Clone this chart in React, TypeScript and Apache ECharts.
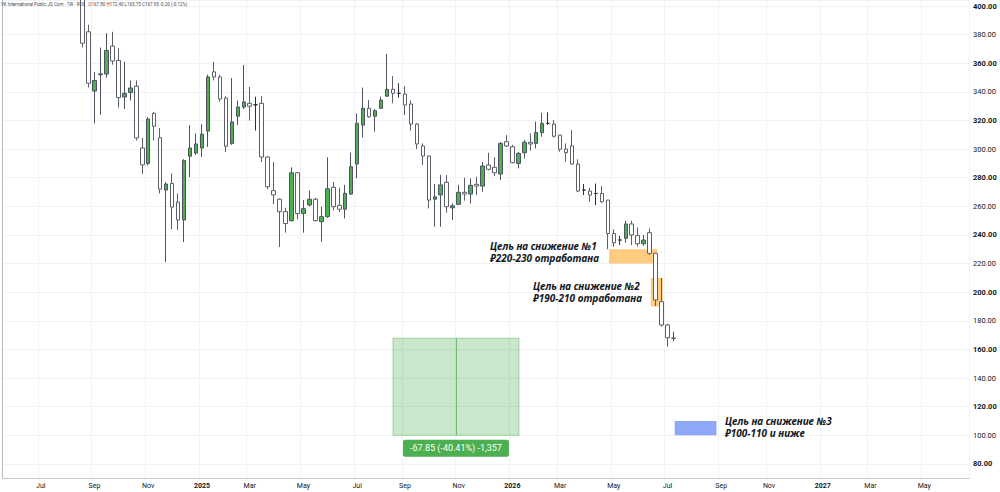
import React, { useEffect, useRef } from "react";
import * as echarts from "echarts";

// ---- categories: weekly bars ----
const FIRST_WEEK = "2024-05-20";
const WEEK_COUNT = 162;
const FIRST_CANDLE_INDEX = 13;
const MONTHS = ["Jan", "Feb", "Mar", "Apr", "May", "Jun", "Jul", "Aug", "Sep", "Oct", "Nov", "Dec"];

// ---- weekly OHLC ----
const OPEN = [
  412, 382, 340.6, 352, 352.5, 372, 362, 336.4, 339.5, 344,
  300.8, 290, 325, 308, 271.4, 276, 263, 250.5, 295, 297.3,
  300.8, 312.6, 354, 350.4, 335.7, 304, 323, 329.4, 332, 331,
  332, 294.5, 271, 265, 256.3, 250, 283.5, 255, 261, 265,
  249.3, 252.8, 273.3, 260.7, 258, 268.6, 289.6, 316.8, 328.5, 323,
  328.5, 337, 341.8, 339, 338.5, 331.5, 317.5, 302.2, 295.2, 265,
  268, 276.8, 259, 261.4, 269.8, 268.6, 275.4, 274.2, 288.9, 287.3,
  282.6, 305.2, 301.7, 290, 297.5, 304.8, 304, 311.5, 318, 317.5,
  309.8, 300, 302.2, 289.6, 271.4, 270.7, 269, 269, 264.4, 241,
  236.5, 237.7, 247.7, 239.6, 233.9, 241.6, 227.2, 193.4, 177.1, 167.8,
];
const CLOSE = [
  374, 346, 348, 352.6, 369, 361.6, 336, 339, 342.7, 307.8,
  289, 321, 316, 272, 275.6, 259.5, 250.5, 292, 300.8, 303.6,
  310.5, 350.4, 350.4, 335, 302, 319, 329.4, 333, 330, 331,
  294.5, 273.7, 268, 256.3, 248, 283.5, 255, 258.4, 265, 250,
  252.8, 272.3, 259.8, 258, 269, 287.7, 318, 328.5, 322.6, 326.8,
  334.3, 341.8, 339, 339, 330.8, 317.5, 303.6, 295.2, 264.4, 266.7,
  275, 259.8, 260.4, 269.8, 268.6, 274.7, 274.2, 288.2, 285.9, 283.5,
  304, 302.2, 290.5, 297, 304.8, 303.6, 311.7, 318, 318, 309,
  299.9, 297.5, 289.6, 270.7, 271.4, 267.9, 269, 263.2, 241, 234.6,
  236.5, 247.7, 240, 233.9, 236.5, 227.2, 194.6, 177.1, 168.15, 167.95,
];
const LOW = [
  371, 343, 318, 324, 350, 359, 329, 328, 334, 306,
  282.6, 288.5, 306, 269, 221, 244, 243.5, 235, 280.5, 296,
  294.5, 301.5, 348, 333, 298, 303, 316.8, 328, 320, 313,
  291, 272, 261.6, 231.6, 241.6, 249.5, 251, 241.6, 260, 249.5,
  235.3, 252, 257, 256, 251.6, 268, 279.6, 308.2, 322, 312.2,
  328, 336.6, 332, 336, 323.8, 312.9, 300, 288.9, 258.6, 245.8,
  245.8, 255.6, 250.5, 261, 264, 262, 267.9, 270.2, 285, 281.2,
  278.4, 301.5, 290, 286.6, 293.5, 298.9, 300.5, 308.7, 317, 308,
  298.2, 291.2, 289, 270, 267.9, 263.2, 260.9, 262.5, 230, 231.8,
  233, 234.6, 233, 232, 232.5, 226, 190.4, 175.9, 161.9, 165.75,
];
const HIGH = [
  425, 387, 354, 371, 381, 382, 370.6, 361, 348, 348,
  307.8, 322.4, 326, 314.7, 277, 283, 269, 293, 316.8, 311,
  317.5, 352, 361, 352, 337, 349.7, 334, 358.8, 343.4, 336.6,
  337, 295, 291, 265.5, 259, 287.3, 284, 264.4, 271, 266,
  259.8, 294.3, 277, 273, 275, 297.5, 325, 343, 334.3, 328,
  336.6, 366.5, 351, 346, 344, 334, 318, 304, 295.5, 275.6,
  282, 282, 262, 275, 280, 279.6, 280.7, 291, 297.5, 294.3,
  305, 309.8, 303, 298, 306.4, 311, 319.2, 325.4, 325.7, 320.3,
  310, 304, 313.3, 292.9, 275.6, 273, 276, 274.2, 264.5, 244,
  239.3, 250, 250, 245.3, 240, 244.6, 227.5, 210, 178, 172.4,
];

// ---- price axis ----
const Y_MIN = 70.2;
const Y_MAX = 404.2;
const Y_STEP_COUNT = 17;

// ---- annotations ----
const HEADER_NAME = "VK International Public JS Com · 1W · RUS";
const TICK_SIZE = 0.05;
const TARGET_1 = { from: 101.7, to: 109.8, low: 220, high: 230 };
const TARGET_2 = { from: 108.7, to: 110.7, low: 190, high: 210 };
const TARGET_3 = { from: 112.7, to: 119.7, low: 100, high: 110 };
const MEASURE = { from: 65.5, to: 86.6, mid: 76.1, top: 167.9, bottom: 100.05 };
const NOTES = [
  { x: 490, y: 239.6, lines: ["Цель на снижение №1", "₽220-230 отработана"] },
  { x: 533, y: 279.5, lines: ["Цель на снижение №2", "₽190-210 отработана"] },
  { x: 725, y: 414.8, lines: ["Цель на снижение №3", "₽100-110 и ниже"] },
];

function buildWeeks(): string[] {
  const out: string[] = [];
  const start = new Date(FIRST_WEEK + "T00:00:00Z").getTime();
  for (let i = 0; i < WEEK_COUNT; i++) {
    out.push(new Date(start + i * 7 * 86400000).toISOString().slice(0, 10));
  }
  return out;
}

export default function App() {
  const ref = useRef<HTMLDivElement>(null);

  useEffect(() => {
    if (!ref.current) return;
    const chart = echarts.init(ref.current, undefined, { renderer: "svg" });
    const weeks = buildWeeks();
    const monthOf = (i: number) => Number(weeks[i].slice(5, 7));
    const isLabelWeek = (i: number) =>
      i > 0 && monthOf(i) !== monthOf(i - 1) && monthOf(i) % 2 === 1;

    const candleRows = OPEN.map((o, k) => [
      weeks[FIRST_CANDLE_INDEX + k],
      o,
      CLOSE[k],
      LOW[k],
      HIGH[k],
    ]);

    const n = OPEN.length;
    const lastO = OPEN[n - 1];
    const lastC = CLOSE[n - 1];
    const prevC = CLOSE[n - 2];
    const chg = lastC - prevC;
    const header = `${HEADER_NAME}   O${lastO.toFixed(2)} H${HIGH[n - 1].toFixed(2)} L${LOW[n - 1].toFixed(2)} C${lastC.toFixed(2)} ${chg.toFixed(2)} (${((chg / prevC) * 100).toFixed(2)}%)`;

    const diff = MEASURE.bottom - MEASURE.top;
    const measureLabel = `${diff.toFixed(2)} (${((diff / MEASURE.top) * 100).toFixed(2)}%) ${Math.round(diff / TICK_SIZE).toLocaleString("en-US")}`;

    const area = (t: { from: number; to: number; low: number; high: number }, color: string) => [
      { xAxis: t.from, yAxis: t.high, itemStyle: { color } },
      { xAxis: t.to, yAxis: t.low },
    ];

    chart.setOption({
      animation: false,
      backgroundColor: "#ffffff",
      title: {
        text: header,
        left: 1,
        top: 2,
        padding: 0,
        textStyle: { fontSize: 4.5, fontWeight: "normal", color: "#4a4a4a", fontFamily: "Roboto" },
      },
      grid: { left: 2, right: 31, top: 0, bottom: 14 },
      xAxis: [
        {
          type: "category",
          data: weeks,
          boundaryGap: true,
          axisLine: { show: true, lineStyle: { color: "#c4c7ce", width: 1 } },
          axisTick: { show: false },
          splitLine: {
            show: true,
            interval: (i: number) => isLabelWeek(i),
            lineStyle: { color: "#f0f2f5", width: 1 },
          },
          axisLabel: {
            interval: (i: number) => isLabelWeek(i),
            margin: 4,
            fontSize: 7,
            color: "#131722",
            fontFamily: "Roboto",
            formatter: (v: string) => {
              const m = Number(v.slice(5, 7));
              return m === 1 ? `{y|${v.slice(0, 4)}}` : MONTHS[m - 1];
            },
            rich: { y: { fontSize: 7, fontWeight: "bold", color: "#131722", fontFamily: "Roboto" } },
          },
        },
        { type: "value", min: 0, max: WEEK_COUNT, show: false },
      ],
      yAxis: {
        type: "value",
        position: "right",
        min: Y_MIN,
        max: Y_MAX,
        splitNumber: Y_STEP_COUNT,
        axisLine: { show: true, lineStyle: { color: "#b6b9c0" } },
        axisTick: { show: false },
        splitLine: { show: true, lineStyle: { color: "#f0f2f5", width: 1 } },
        axisLabel: {
          showMinLabel: false,
          showMaxLabel: false,
          margin: 4,
          fontSize: 7.5,
          color: "#131722",
          fontFamily: "Roboto",
          formatter: (v: number) =>
            Math.round(v) % 40 === 0 ? `{b|${v.toFixed(2)}}` : v.toFixed(2),
          rich: { b: { fontSize: 7.5, fontWeight: "bold", color: "#131722", fontFamily: "Roboto" } },
        },
      },
      series: [
        {
          type: "candlestick",
          name: "VK",
          data: candleRows,
          encode: { x: 0, y: [1, 2, 3, 4] },
          barWidth: 4,
          clip: true,
          itemStyle: {
            color: "#4caf50",
            color0: "#ffffff",
            borderColor: "#4f5360",
            borderColor0: "#5d606b",
            borderColorDoji: "#2a2e39",
            borderWidth: 1,
          },
          z: 2,
        },
        {
          type: "line",
          xAxisIndex: 1,
          yAxisIndex: 0,
          data: [[0, 200]],
          showSymbol: false,
          symbol: "none",
          silent: true,
          lineStyle: { opacity: 0 },
          z: 5,
          markArea: {
            silent: true,
            data: [
              area(TARGET_1, "rgba(255,152,0,0.5)"),
              area(TARGET_2, "rgba(255,152,0,0.5)"),
              area(TARGET_3, "rgba(50,95,240,0.55)"),
              [
                {
                  xAxis: MEASURE.from,
                  yAxis: MEASURE.top,
                  itemStyle: {
                    color: "rgba(76,175,80,0.3)",
                    borderColor: "rgba(76,175,80,0.45)",
                    borderWidth: 1,
                  },
                  label: {
                    show: true,
                    position: "bottom",
                    distance: 4,
                    formatter: measureLabel,
                    color: "#ffffff",
                    backgroundColor: "#4caf50",
                    padding: [4, 7, 4, 7],
                    borderRadius: 2,
                    fontSize: 9,
                    fontFamily: "Roboto",
                  },
                },
                { xAxis: MEASURE.to, yAxis: MEASURE.bottom },
              ],
            ],
          },
          markLine: {
            silent: true,
            symbol: ["none", "none"],
            label: { show: false },
            lineStyle: { color: "#5fae62", width: 1, type: "solid", opacity: 0.8 },
            data: [
              [
                { coord: [MEASURE.mid, MEASURE.top] },
                { coord: [MEASURE.mid, MEASURE.bottom] },
              ],
            ],
          },
        },
      ],
      graphic: NOTES.map((nt) => ({
        type: "text",
        x: nt.x,
        y: nt.y,
        z: 10,
        style: {
          text: nt.lines.join("\n"),
          fontSize: 10,
          fontWeight: "bold",
          fontStyle: "italic",
          fontFamily: "Noto Sans",
          lineHeight: 12,
          fill: "#131722",
          align: "left",
          verticalAlign: "top",
        },
      })),
    });

    return () => chart.dispose();
  }, []);

  return <div ref={ref} style={{ width: 1000, height: 492, position: "absolute", left: 0, top: 0 }} />;
}
